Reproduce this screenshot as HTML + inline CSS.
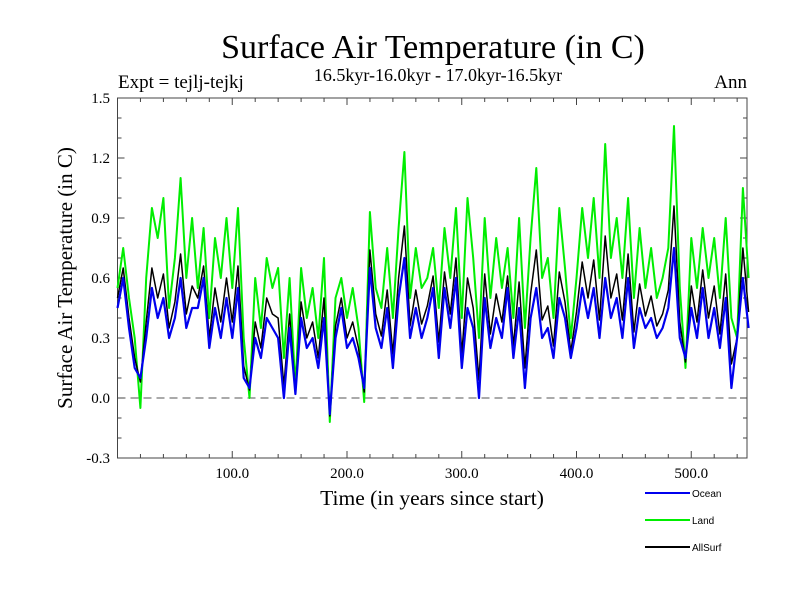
<!DOCTYPE html>
<html><head><meta charset="utf-8"><style>
body{margin:0;background:#fff}
svg{display:block}
text{font-family:"Liberation Serif",serif}
</style></head><body>
<svg id="chart" width="800" height="600">
<text x="433" y="58" font-size="34" text-anchor="middle">Surface Air Temperature (in C)</text>
<text x="438" y="81" font-size="18" text-anchor="middle">16.5kyr-16.0kyr - 17.0kyr-16.5kyr</text>
<text x="118" y="88" font-size="19">Expt = tejlj-tejkj</text>
<text x="747" y="88" font-size="19" text-anchor="end">Ann</text>
<text x="432" y="505" font-size="21.5" text-anchor="middle">Time (in years since start)</text>
<text transform="translate(72,278) rotate(-90)" font-size="21" text-anchor="middle">Surface Air Temperature (in C)</text>
<g id="axes"></g>
<g id="series"></g>
<g id="legend"></g>
</svg>
<script>
const years = [];
for (let i = 0; i <= 110; i++) years.push(i * 5);
const land = [0.55,0.75,0.5,0.3,-0.05,0.6,0.95,0.8,1.0,0.45,0.7,1.1,0.6,0.9,0.55,0.85,0.4,0.8,0.6,0.9,0.55,0.95,0.3,0.0,0.6,0.35,0.7,0.55,0.65,0.2,0.6,0.05,0.65,0.4,0.55,0.3,0.7,-0.12,0.5,0.6,0.4,0.55,0.35,-0.02,0.93,0.55,0.45,0.75,0.4,0.85,1.23,0.5,0.75,0.55,0.6,0.75,0.45,0.85,0.6,0.95,0.4,1.0,0.7,0.3,0.9,0.5,0.8,0.55,0.75,0.4,0.9,0.35,0.8,1.15,0.6,0.7,0.4,0.95,0.65,0.3,0.6,0.95,0.7,1.0,0.6,1.27,0.7,0.9,0.6,1.0,0.5,0.85,0.55,0.75,0.5,0.6,0.75,1.36,0.55,0.15,0.8,0.55,0.85,0.6,0.8,0.5,0.9,0.4,0.3,1.05,0.6];
const ocean = [0.45,0.6,0.35,0.15,0.1,0.3,0.55,0.4,0.5,0.3,0.4,0.6,0.35,0.45,0.45,0.6,0.25,0.45,0.3,0.5,0.3,0.55,0.1,0.05,0.3,0.2,0.4,0.35,0.3,0.0,0.35,0.02,0.4,0.25,0.3,0.15,0.4,-0.08,0.3,0.45,0.25,0.3,0.2,0.05,0.65,0.35,0.25,0.45,0.15,0.5,0.7,0.3,0.45,0.3,0.4,0.55,0.2,0.55,0.35,0.6,0.15,0.45,0.35,0.0,0.5,0.25,0.4,0.3,0.55,0.2,0.45,0.05,0.4,0.55,0.3,0.35,0.2,0.5,0.4,0.2,0.35,0.55,0.4,0.55,0.3,0.6,0.4,0.5,0.3,0.6,0.25,0.45,0.35,0.4,0.3,0.35,0.45,0.75,0.3,0.2,0.45,0.3,0.55,0.3,0.45,0.25,0.5,0.05,0.3,0.6,0.35];
const allsurf = [0.5,0.65,0.4,0.2,0.08,0.38,0.65,0.5,0.62,0.35,0.48,0.72,0.42,0.56,0.5,0.66,0.3,0.55,0.38,0.6,0.38,0.66,0.16,0.04,0.38,0.25,0.5,0.42,0.4,0.06,0.42,0.03,0.48,0.3,0.38,0.2,0.5,-0.09,0.36,0.5,0.3,0.38,0.25,0.03,0.74,0.42,0.31,0.54,0.22,0.6,0.86,0.36,0.54,0.37,0.46,0.61,0.28,0.63,0.42,0.7,0.22,0.6,0.45,0.09,0.62,0.32,0.52,0.38,0.61,0.26,0.58,0.15,0.52,0.74,0.39,0.46,0.26,0.63,0.48,0.23,0.43,0.68,0.5,0.69,0.39,0.81,0.5,0.62,0.39,0.72,0.33,0.57,0.41,0.51,0.36,0.42,0.54,0.96,0.38,0.18,0.56,0.38,0.64,0.4,0.56,0.32,0.62,0.17,0.3,0.75,0.43];
const yTicks = [-0.3,0.0,0.3,0.6,0.9,1.2,1.5];
const xTicks = [100,200,300,400,500];

const NS = 'http://www.w3.org/2000/svg';
const X0 = 117.5, XS = 1.1475, Y0 = 398, YS = 200;
const L = 117.5, R = 747, T = 98, B = 458;
const sx = v => X0 + v * XS;
const sy = v => Y0 - v * YS;
function mk(tag, attrs, parent) {
  const e = document.createElementNS(NS, tag);
  for (const k in attrs) e.setAttribute(k, attrs[k]);
  parent.appendChild(e);
  return e;
}
const axes = document.getElementById('axes');
const frame = mk('rect', {x: L, y: T, width: R - L, height: B - T, fill: 'none', stroke: '#444', 'stroke-width': 1}, axes);


const zl = mk('line', {x1: L, x2: R, y1: sy(0), y2: sy(0), stroke: '#555', 'stroke-width': 1, 'stroke-dasharray': '8,5'}, axes);


for (let k = -3; k <= 15; k++) {
  const v = k / 10, y = sy(v), len = (k % 3 === 0) ? 7 : 4;
  mk('line', {x1: L, x2: L + len, y1: y, y2: y, stroke: '#444'}, axes);
  mk('line', {x1: R, x2: R - len, y1: y, y2: y, stroke: '#444'}, axes);
}
yTicks.forEach(v => {
  const t = mk('text', {x: 110, y: sy(v) + 5, 'font-size': 15, 'text-anchor': 'end'}, axes);
  t.textContent = v.toFixed(1);
  
  
});
for (let v = 20; v <= 540; v += 20) {
  const x = sx(v), len = (v % 100 === 0) ? 7 : 4;
  mk('line', {x1: x, x2: x, y1: B, y2: B - len, stroke: '#444'}, axes);
  mk('line', {x1: x, x2: x, y1: T, y2: T + len, stroke: '#444'}, axes);
}
xTicks.forEach(v => {
  const t = mk('text', {x: sx(v), y: 478, 'font-size': 15, 'text-anchor': 'middle'}, axes);
  t.textContent = v.toFixed(1);
  
  
});
const series = document.getElementById('series');
function draw(vals, color, name, w) {
  const d = vals.map((v, i) => (i ? 'L' : 'M') + sx(years[i]).toFixed(1) + ',' + sy(v).toFixed(1)).join('');
  const p = mk('path', {d: d, fill: 'none', stroke: color, 'stroke-width': w, 'stroke-linejoin': 'round'}, series);
  
  
}
draw(land, '#00ee00', 'land-series', 2);
draw(allsurf, '#000', 'allsurf-series', 1.5);
draw(ocean, '#0000ee', 'ocean-series', 2.2);
const legend = document.getElementById('legend');
[['Ocean', '#0000ee', 493], ['Land', '#00ee00', 520], ['AllSurf', '#000', 547]].forEach(([n, c, y]) => {
  const g = mk('g', {}, legend);
  
  
  mk('line', {x1: 645, x2: 690, y1: y, y2: y, stroke: c, 'stroke-width': 2}, g);
  const t = mk('text', {x: 692, y: y + 4, 'font-size': 10, style: 'font-family:"Liberation Sans",sans-serif'}, g);
  t.textContent = n;
});
</script>
</body></html>
